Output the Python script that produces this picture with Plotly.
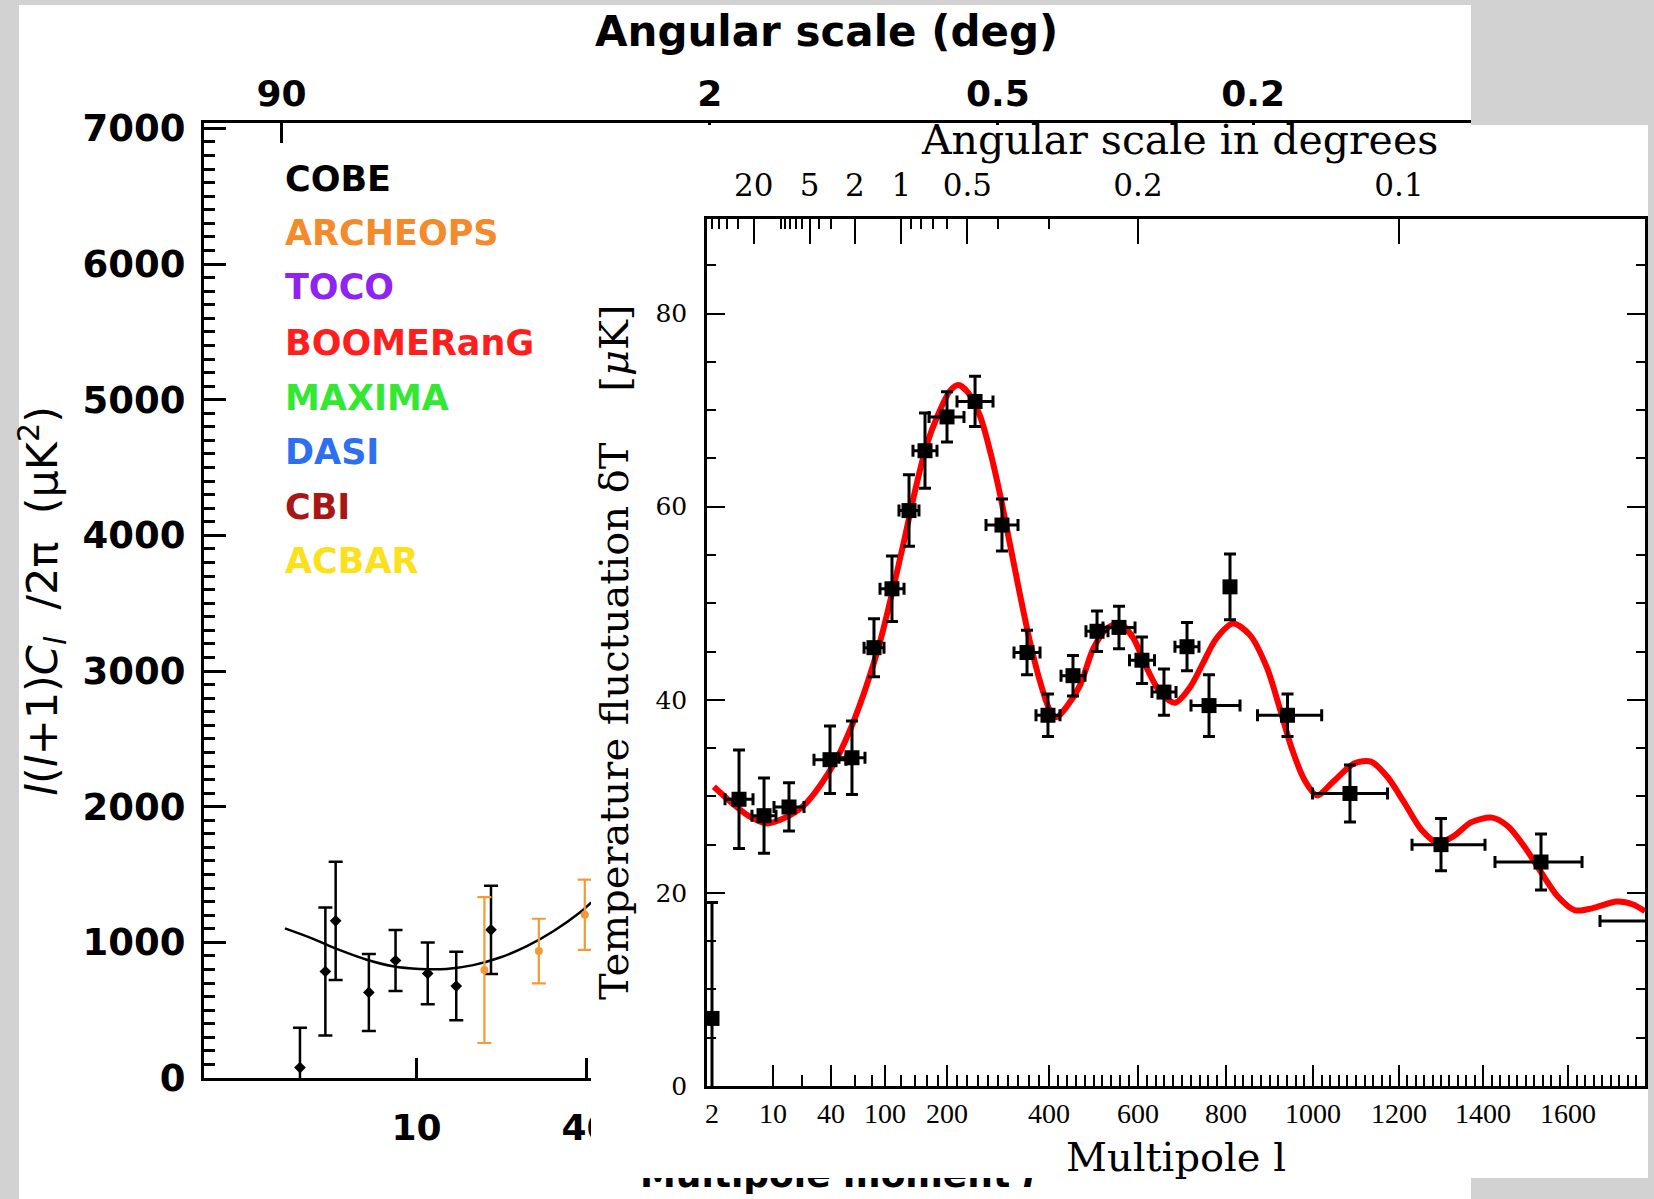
import base64
import struct
import zlib

import numpy as np
import plotly.graph_objects as go

W, H = 1654, 1199

# ---------------------------------------------------------------------------
# Left chart (background figure): l(l+1)C_l/2pi vs multipole moment
# ---------------------------------------------------------------------------
COBE_L = [2.49, 3.37, 3.81, 5.66, 7.78, 10.95, 13.82, 18.35]
COBE_V = [77, 785, 1159, 631, 866, 771, 678, 1092]
COBE_ERR = [294, 471, 436, 284, 225, 228, 253, 326]

ARCH_L = [17.39, 27.11, 39.45]
ARCH_V = [796, 936, 1204]
ARCH_ERR = [538, 238, 259]

LMODEL_L = [2.08, 2.89, 3.98, 5.47, 7.54, 10.25, 12.75, 15.87, 19.75, 24.59, 30.60, 38.10, 41.3]
LMODEL_V = [1103, 1028, 944, 874, 824, 804, 804, 832, 888, 972, 1084, 1224, 1294]

EXPERIMENTS = ["COBE", "ARCHEOPS", "TOCO", "BOOMERanG", "MAXIMA", "DASI", "CBI", "ACBAR"]
EXP_COLORS = ["#000000", "#f38a2c", "#8f23f0", "#ff1e1e", "#33e833", "#2d6ff0", "#a81616", "#fbe01c"]

LEFT_Y_TICKS = [0, 1000, 2000, 3000, 4000, 5000, 6000, 7000]
LEFT_X_TICKS = [10, 40]
LEFT_TOP_DEG = [90, 2, 0.5, 0.2]

# ---------------------------------------------------------------------------
# Right chart (foreground figure): temperature fluctuation vs multipole
# ---------------------------------------------------------------------------
R_L = [4.08, 7.89, 14.66, 39.06, 57.1, 82.95, 108.1, 130.8, 156.4, 200, 255, 307.8, 356.9, 398,
       453.9, 507.9, 557.3, 609, 659, 711.4, 761.4, 809.2, 941.4, 1086, 1300, 1536.5, 1816.5, 2]
R_L_LO = [2.82, 5.74, 10.24, 26.64, 45.8, 70.1, 91.9, 116.9, 136.7, 163.6, 219.6, 276.5, 331.4, 374.5,
          427, 483.1, 521.3, 580.9, 631.8, 684, 720.5, 809.2, 872.4, 998.9, 1231, 1428.2, 1675.3, 2]
R_L_HI = [5.90, 10.74, 20.98, 51.6, 71.2, 98.3, 123.7, 146.2, 178.8, 233.3, 290.2, 339.2, 382.4, 424.7,
          480.9, 532.6, 593.3, 637.5, 686.4, 738.6, 832.2, 809.2, 1020.2, 1173.3, 1404.7, 1633, 1957.6, 2]
R_DT = [29.7, 28.0, 28.9, 33.8, 34.0, 45.4, 51.5, 59.6, 65.8, 69.3, 70.9, 58.1, 44.9, 38.4,
        42.5, 47.1, 47.5, 44.1, 40.8, 45.5, 39.4, 51.7, 38.4, 30.3, 25.0, 23.2, 17.1, 7.0]
R_ERR_UP = [5.1, 3.9, 2.5, 3.5, 3.8, 3.0, 3.4, 3.7, 3.9, 2.6, 2.6, 2.7, 2.3, 2.2,
            2.1, 2.1, 2.2, 2.4, 2.4, 2.5, 3.2, 3.4, 2.2, 2.95, 2.7, 2.9, 0, 12.0]
R_ERR_DN = [5.1, 3.9, 2.5, 3.5, 3.8, 3.0, 3.4, 3.7, 3.9, 2.6, 2.6, 2.7, 2.3, 2.2,
            2.1, 2.1, 2.2, 2.4, 2.4, 2.5, 3.2, 3.4, 2.2, 2.95, 2.7, 2.9, 0, 8.0]

RMODEL_L = [2.1, 3.51, 5.21, 8.47, 12.79, 20.63, 30.75, 44.06, 58.4, 73.25,
            91.9, 107.8, 122.7, 139.8, 159.4, 181.5, 205.9, 222.2, 241.8, 264.7,
            284.3, 303.9, 323.5, 343.1, 362.7, 382.4, 402.2, 417.3, 439.8, 469.7,
            499.5, 529.7, 559.5, 589.4, 619.8, 650, 684.1, 718.2, 747.7, 777.3,
            816.1, 855.2, 894.3, 921.8, 951.7, 979.3, 1009.3, 1046.5, 1095.4, 1134.9,
            1173.3, 1211.9, 1252.4, 1291.7, 1331, 1371.4, 1421.2, 1458.8, 1498.8, 1538.8,
            1576.5, 1616.5, 1656.5, 1715.3, 1753, 1781]
RMODEL_DT = [31.0, 29.2, 28.0, 27.2, 27.7, 29.0, 31.1, 33.9, 37.7, 41.5,
             46.0, 50.9, 56.1, 61.6, 66.4, 69.6, 72.0, 72.6, 71.8, 69.4,
             65.8, 61.3, 56.1, 50.9, 46.0, 41.9, 38.9, 38.2, 39.3, 41.5,
             45.3, 47.4, 47.9, 46.4, 43.3, 40.8, 39.7, 41.3, 43.8, 46.3,
             47.9, 46.7, 43.3, 39.4, 34.9, 31.8, 30.1, 31.5, 33.4, 33.6,
             32.0, 29.4, 26.6, 25.2, 25.9, 27.3, 27.8, 26.9, 24.7, 22.0,
             19.6, 18.2, 18.4, 19.1, 18.8, 18.1]

R_X_MAJOR = [2, 10, 40, 100, 200, 400, 600, 800, 1000, 1200, 1400, 1600]
R_X_MINOR = [20, 60, 80, 120, 140, 160, 180] + [v for v in range(220, 1800, 20) if v % 200 != 0]
R_Y_TICKS = [0, 20, 40, 60, 80]
R_TOP_DEG = [20, 5, 2, 1, 0.5, 0.2, 0.1]
R_TOP_DEG_MINOR = [60, 50, 40, 30, 10, 9, 8, 7, 6, 4, 3, 0.9, 0.8, 0.7, 0.6, 0.4, 0.3]

# ---------------------------------------------------------------------------
# Axis scales (both original figures use non-standard multipole axes)
# ---------------------------------------------------------------------------
LEFT_SCALE_L = [2, 10, 40, 90, 360, 900]
LEFT_SCALE_U = [281.6, 416.6, 586.5, 709.9, 997.8, 1253.1]
RIGHT_SCALE_L = [2, 10, 40, 100, 200, 400, 600, 800, 1000, 1200, 1400, 1600, 1800, 2000]
RIGHT_SCALE_U = [712, 773, 831, 885, 947, 1049, 1138, 1226, 1313, 1399, 1483, 1568, 1653, 1738]


def l_scale(l):
    l = np.asarray(l, dtype=float)
    return np.interp(np.log(l), np.log(LEFT_SCALE_L), LEFT_SCALE_U)


def r_scale(l):
    l = np.asarray(l, dtype=float)
    low = np.interp(np.log(l), np.log(RIGHT_SCALE_L), RIGHT_SCALE_U)
    high = np.interp(l, RIGHT_SCALE_L, RIGHT_SCALE_U)
    return np.where(l < 200, low, high)


def px_x(p):
    return p / W


def px_y(p):
    return 1 - p / H


def white_png(w=4, h=4):
    raw = b"".join(b"\x00" + b"\xff\xff\xff" * w for _ in range(h))

    def chunk(tag, data):
        c = struct.pack(">I", len(data)) + tag + data
        return c + struct.pack(">I", zlib.crc32(tag + data) & 0xFFFFFFFF)

    png = (b"\x89PNG\r\n\x1a\n"
           + chunk(b"IHDR", struct.pack(">IIBBBBB", w, h, 8, 2, 0, 0, 0))
           + chunk(b"IDAT", zlib.compress(raw))
           + chunk(b"IEND", b""))
    return "data:image/png;base64," + base64.b64encode(png).decode()


# geometry (pixels)
LP = dict(x0=19, x1=1471, y0=5, y1=1199)          # left white panel
LA = dict(x0=204, x1=1471, y0=123, y1=1078)       # left plot area
RP = dict(x0=591, x1=1648, y0=125, y1=1178)       # right white panel
RA = dict(x0=707, x1=1645, y0=219, y1=1086)       # right plot area

SANS = "DejaVu Sans"
SERIF = "DejaVu Serif"

fig = go.Figure()

# ---------------- left chart traces ----------------
fig.add_trace(go.Scatter(
    x=l_scale(LMODEL_L), y=LMODEL_V, mode="lines",
    line=dict(color="black", width=2.5, shape="spline"),
    xaxis="x", yaxis="y", hoverinfo="skip"))
fig.add_trace(go.Scatter(
    x=l_scale(COBE_L), y=COBE_V, mode="markers",
    marker=dict(symbol="diamond", size=9, color="black"),
    error_y=dict(type="data", array=COBE_ERR, color="black", thickness=2.5, width=7),
    xaxis="x2", yaxis="y"))
fig.add_trace(go.Scatter(
    x=l_scale(ARCH_L), y=ARCH_V, mode="markers",
    marker=dict(symbol="circle", size=8, color="#f39a35"),
    error_y=dict(type="data", array=ARCH_ERR, color="#f39a35", thickness=2.2, width=7),
    xaxis="x2", yaxis="y"))

# ---------------- right chart traces ----------------
ux = r_scale(R_L)
ex_plus = r_scale(R_L_HI) - ux
ex_minus = ux - r_scale(R_L_LO)

fig.add_trace(go.Scatter(
    x=r_scale(RMODEL_L), y=RMODEL_DT, mode="lines",
    line=dict(color="#ff0000", width=6, shape="spline", smoothing=0.8),
    xaxis="x3", yaxis="y2", hoverinfo="skip"))
fig.add_trace(go.Scatter(
    x=ux, y=R_DT, mode="markers",
    marker=dict(symbol="square", size=15, color="black"),
    error_y=dict(type="data", symmetric=False, array=R_ERR_UP, arrayminus=R_ERR_DN,
                 color="black", thickness=3, width=6),
    error_x=dict(type="data", symmetric=False, array=ex_plus, arrayminus=ex_minus,
                 color="black", thickness=3, width=6),
    xaxis="x4", yaxis="y2"))

tick_common = dict(showgrid=False, zeroline=False, tickcolor="black", linecolor="black",
                   automargin=False)

fig.update_layout(
    width=W, height=H,
    margin=dict(l=0, r=0, t=0, b=0, pad=0, autoexpand=False),
    paper_bgcolor="#d2d2d2",
    plot_bgcolor="rgba(0,0,0,0)",
    showlegend=False,
    font=dict(family=SANS, color="black"),
    xaxis=dict(
        domain=[px_x(LA["x0"]), px_x(LA["x1"])], range=[LA["x0"], LA["x1"]],
        anchor="y", showline=True, linewidth=3, ticks="inside", ticklen=20, tickwidth=3,
        tickmode="array",
        tickvals=list(l_scale(LEFT_X_TICKS)) + [(LA["x0"] + LA["x1"]) / 2],
        ticktext=[str(v) for v in LEFT_X_TICKS] + ["<br>Multipole moment <i>l</i>"],
        tickfont=dict(family=SANS, size=36, weight="bold"),
        ticklabelstandoff=16, **tick_common),
    xaxis2=dict(
        overlaying="x", side="top", anchor="y", range=[LA["x0"], LA["x1"]],
        showline=True, linewidth=3, ticks="inside", ticklen=20, tickwidth=3,
        tickmode="array", tickvals=l_scale([180 / d for d in LEFT_TOP_DEG]),
        ticktext=[str(d) for d in LEFT_TOP_DEG],
        tickfont=dict(family=SANS, size=36, weight="bold"),
        ticklabelstandoff=0, **tick_common),
    yaxis=dict(
        domain=[px_y(LA["y1"]), px_y(LA["y0"])], range=[0, 7040],
        anchor="x", showline=True, linewidth=3, ticks="inside", ticklen=22, tickwidth=3,
        tickmode="array", tickvals=LEFT_Y_TICKS, ticktext=[str(v) for v in LEFT_Y_TICKS],
        minor=dict(tickmode="array", tickvals=list(range(0, 7001, 100)), ticks="inside",
                   ticklen=11, tickwidth=2.5, tickcolor="black"),
        tickfont=dict(family=SANS, size=37, weight="bold"),
        ticklabelstandoff=8, **tick_common),
    xaxis3=dict(
        domain=[px_x(RA["x0"]), px_x(RA["x1"])], range=[RA["x0"], RA["x1"]],
        anchor="y2", showline=True, linewidth=2.5, ticks="inside", ticklen=21, tickwidth=2,
        tickmode="array", tickvals=r_scale(R_X_MAJOR), ticktext=[str(v) for v in R_X_MAJOR],
        minor=dict(tickmode="array", tickvals=r_scale(R_X_MINOR), ticks="inside",
                   ticklen=11, tickwidth=1.8, tickcolor="black"),
        tickfont=dict(family="Liberation Serif", size=28),
        ticklabelstandoff=1, **tick_common),
    xaxis4=dict(
        overlaying="x3", side="top", anchor="y2", range=[RA["x0"], RA["x1"]],
        showline=True, linewidth=2.5, ticks="inside", ticklen=25, tickwidth=2,
        tickmode="array", tickvals=r_scale([120 / d for d in R_TOP_DEG]),
        ticktext=[str(d) for d in R_TOP_DEG],
        minor=dict(tickmode="array", tickvals=r_scale([120 / d for d in R_TOP_DEG_MINOR]),
                   ticks="inside", ticklen=10, tickwidth=1.8, tickcolor="black"),
        tickfont=dict(family=SERIF, size=31),
        ticklabelstandoff=8, **tick_common),
    yaxis2=dict(
        domain=[px_y(RA["y1"]), px_y(RA["y0"])], range=[0, 89.8],
        anchor="x3", showline=True, linewidth=2.5, mirror="ticks",
        ticks="inside", ticklen=18, tickwidth=2,
        tickmode="array", tickvals=R_Y_TICKS, ticktext=[str(v) for v in R_Y_TICKS],
        minor=dict(tickmode="array", tickvals=list(range(0, 90, 5)), ticks="inside",
                   ticklen=9, tickwidth=1.8, tickcolor="black"),
        tickfont=dict(family=SERIF, size=25),
        ticklabelstandoff=12, **tick_common),
)

# left white panel (paper level, below everything)
fig.add_shape(type="rect", xref="paper", yref="paper",
              x0=px_x(LP["x0"]), x1=px_x(LP["x1"]), y0=px_y(LP["y1"]), y1=px_y(LP["y0"]),
              fillcolor="white", line=dict(width=0), layer="below")

# right white panel, drawn in the right subplot's layer so it covers the left chart
dom_w = RA["x1"] - RA["x0"]
dom_h = RA["y1"] - RA["y0"]
fig.add_layout_image(dict(
    source=white_png(), xref="x3 domain", yref="y2 domain",
    x=(RP["x0"] - RA["x0"]) / dom_w, y=(RA["y1"] - RP["y0"]) / dom_h,
    sizex=(RP["x1"] - RP["x0"]) / dom_w, sizey=(RP["y1"] - RP["y0"]) / dom_h,
    xanchor="left", yanchor="top", sizing="stretch", layer="below"))

ann = []
# left chart texts
ann.append(dict(text="Angular scale (deg)", x=px_x(826), y=px_y(32),
                font=dict(family=SANS, size=42, weight="bold")))
ann.append(dict(text="<i>l</i>(<i>l</i>+1)<i>C</i><sub><i>l</i></sub>  /2π  (μK<sup>2</sup>)",
                x=px_x(42), y=px_y(601), textangle=-90,
                font=dict(family=SANS, size=43)))
LEG_Y = [179, 233, 287, 343, 398, 452, 507, 561]
for name, col, yy in zip(EXPERIMENTS, EXP_COLORS, LEG_Y):
    ann.append(dict(text=name, x=px_x(283), y=px_y(yy), xanchor="left",
                    font=dict(family=SANS, size=35, weight="bold", color=col)))
# right chart texts
ann.append(dict(text="Angular scale in degrees", x=px_x(1179), y=px_y(140),
                font=dict(family=SERIF, size=41)))
ann.append(dict(text="Multipole l", x=px_x(1176), y=px_y(1157),
                font=dict(family=SERIF, size=40)))
ann.append(dict(text="Temperature fluctuation δT    [<i>μ</i>K]",
                x=px_x(614), y=px_y(653), textangle=-90,
                font=dict(family=SERIF, size=40)))
for a in ann:
    a.setdefault("xref", "paper")
    a.setdefault("yref", "paper")
    a.setdefault("xanchor", "center")
    a.setdefault("yanchor", "middle")
    a["showarrow"] = False
    fig.add_annotation(**a)

fig.write_html("out.html")
